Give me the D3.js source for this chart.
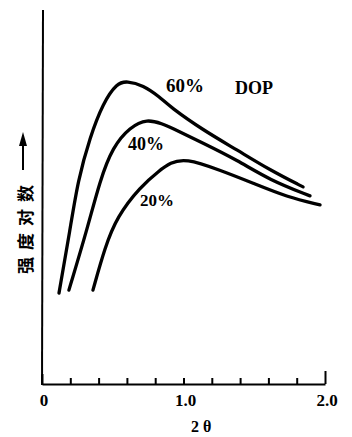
<!DOCTYPE html>
<html><head><meta charset="utf-8">
<script src="https://cdn.jsdelivr.net/npm/d3@7"></script>
<style>body{margin:0;background:#fff}svg{display:block}</style>
</head><body>
<svg id="c" width="352" height="437"></svg>
<script>
// Data (x = 2θ, y = log intensity, arbitrary units)
const seriesNames = ["60%", "40%", "20%"];
const x60 = [0.12, 0.198, 0.254, 0.339, 0.431, 0.53, 0.60, 0.714, 0.834, 0.905, 1.138, 1.378, 1.611, 1.845];
const y60 = [2.43, 4.12, 5.45, 6.60, 7.51, 8.05, 8.10, 7.99, 7.67, 7.41, 6.79, 6.26, 5.72, 5.27];
const x40 = [0.19, 0.318, 0.41, 0.50, 0.622, 0.742, 0.855, 0.905, 1.138, 1.378, 1.611, 1.894];
const y40 = [2.51, 4.12, 5.45, 6.34, 6.87, 7.09, 6.95, 6.87, 6.44, 5.99, 5.45, 5.03];
const x20 = [0.36, 0.445, 0.53, 0.693, 0.834, 0.905, 1.011, 1.258, 1.491, 1.731, 1.965];
const y20 = [2.51, 3.66, 4.47, 5.27, 5.72, 5.91, 6.04, 5.72, 5.37, 5.00, 4.79];
const xTicks = [0, 0.2, 0.4, 0.6, 0.8, 1.0, 1.2, 1.4, 1.6, 1.8, 2.0];
const xTickLabelValues = [0, 1, 2];
const xTickLabels = ["0", "1.0", "2.0"];
const xTitle = "2 θ";
const yTitle = "强度对数";
const legendTitle = "DOP";

const svg = d3.select("#c");
const x = d3.scaleLinear().domain([0, 2]).range([42, 325]);
const y = d3.scaleLinear().domain([0, 10]).range([384, 10]);
const y0 = y(0);

// x axis via d3.axisBottom, ticks pointing upward
const axis = d3.axisBottom(x).tickValues(xTicks).tickSizeInner(-6).tickSizeOuter(0).tickFormat("");
const gx = svg.append("g").attr("transform", `translate(0,${y0})`).call(axis);
gx.select(".domain").attr("stroke", "#000").attr("stroke-width", 2);
gx.selectAll(".tick line").attr("stroke", "#000").attr("stroke-width", 2)
  .attr("y2", d => (d === 0 ? -10 : (d === 2 ? -13 : -6)));

// tick labels
svg.append("g").selectAll("text").data(xTickLabelValues).join("text")
  .attr("x", d => x(d) + 2).attr("y", y0 + 22).attr("text-anchor", "middle")
  .text((d, i) => xTickLabels[i])
  .attr("font-family", "'Liberation Serif', serif").attr("font-weight", "bold")
  .attr("font-size", 17).attr("fill", "#000");

// y axis line (no ticks)
svg.append("line").attr("x1", x(0)).attr("x2", x(0) + 1).attr("y1", y0 + 1).attr("y2", y(10))
  .attr("stroke", "#000").attr("stroke-width", 2);

// curves
const line = d3.line().x(d => x(d[0])).y(d => y(d[1])).curve(d3.curveBasis);
const sets = [[x60, y60], [x40, y40], [x20, y20]];
sets.forEach(([xs, ys]) => {
  svg.append("path").datum(xs.map((v, i) => [v, ys[i]]))
    .attr("d", line).attr("fill", "none").attr("stroke", "#000")
    .attr("stroke-width", 3.3).attr("stroke-linecap", "round");
});

// series labels
const lab = (t, px, py, fs) => svg.append("text").attr("x", px).attr("y", py).text(t)
  .attr("font-family", "'Liberation Serif', serif").attr("font-weight", "bold")
  .attr("font-size", fs).attr("fill", "#000");
lab(seriesNames[0], 166, 92, 19);
lab(legendTitle, 235, 94, 18);
lab(seriesNames[1], 128, 150, 18);
lab(seriesNames[2], 140, 206, 17);

// x title
lab(xTitle, 191, 432, 16).style("white-space", "pre");

// y title (rotated) with arrow
svg.append("text").attr("transform", "translate(32,274) rotate(-90)")
  .text(yTitle).attr("font-family", "'Noto Sans CJK SC', sans-serif").attr("font-weight", "bold")
  .attr("font-size", 17).attr("letter-spacing", 7).attr("fill", "#000");
svg.append("line").attr("x1", 23).attr("x2", 23).attr("y1", 170).attr("y2", 142)
  .attr("stroke", "#000").attr("stroke-width", 2);
svg.append("path").attr("d", "M23,132 L19,146 L27,146 Z").attr("fill", "#000");
</script>
</body></html>
